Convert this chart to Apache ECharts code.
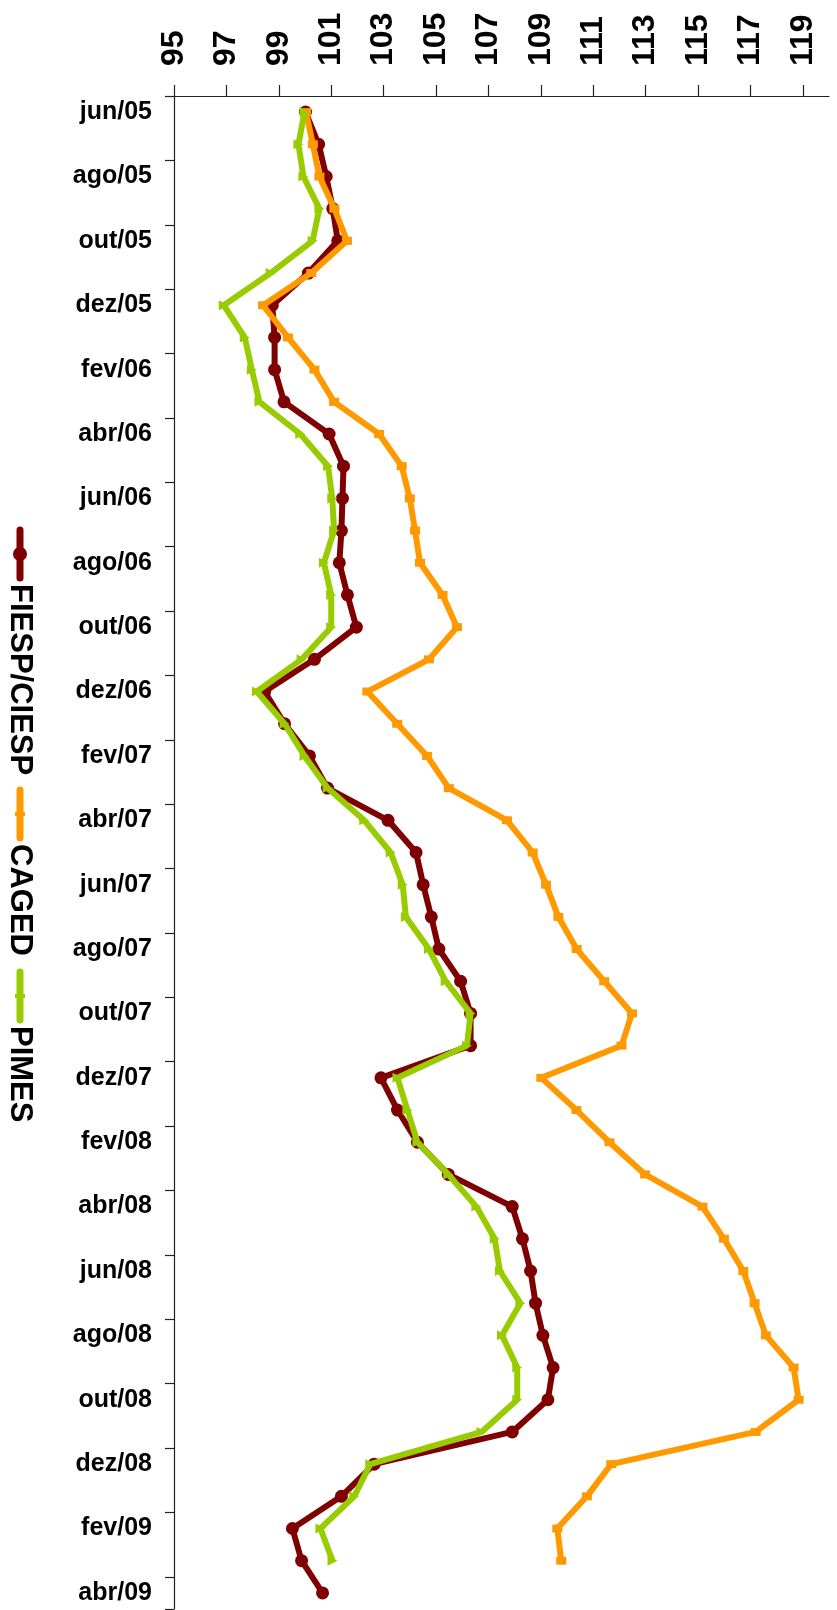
<!DOCTYPE html>
<html>
<head>
<meta charset="utf-8">
<script src="https://cdn.jsdelivr.net/npm/echarts@6/dist/echarts.min.js"></script>
<style>
    html, body { margin: 0; padding: 0; background: #fff; }
</style>
</head>
<body>
<div id="emprego_chart" style="width:837px;height:1610px;"></div>
<script>
    // meses (eixo vertical)
    var months = ['jun/05', 'jul/05', 'ago/05', 'set/05', 'out/05', 'nov/05', 'dez/05',
        'jan/06', 'fev/06', 'mar/06', 'abr/06', 'mai/06', 'jun/06', 'jul/06', 'ago/06', 'set/06', 'out/06', 'nov/06', 'dez/06',
        'jan/07', 'fev/07', 'mar/07', 'abr/07', 'mai/07', 'jun/07', 'jul/07', 'ago/07', 'set/07', 'out/07', 'nov/07', 'dez/07',
        'jan/08', 'fev/08', 'mar/08', 'abr/08', 'mai/08', 'jun/08', 'jul/08', 'ago/08', 'set/08', 'out/08', 'nov/08', 'dez/08',
        'jan/09', 'fev/09', 'mar/09', 'abr/09'];

    var fiesp = [100.02, 100.52, 100.81, 101.06, 101.25, 100.13, 98.75,
        98.84, 98.84, 99.20, 100.92, 101.47, 101.43, 101.39, 101.31, 101.62, 101.96, 100.36, 98.46,
        99.22, 100.17, 100.86, 103.17, 104.24, 104.51, 104.82, 105.11, 105.94, 106.32, 106.32, 102.90,
        103.53, 104.29, 105.47, 107.91, 108.30, 108.61, 108.80, 109.08, 109.47, 109.27, 107.91, 102.64,
        101.39, 99.52, 99.87, 100.67];

    var caged = [100.04, 100.30, 100.55, 101.12, 101.60, 100.24, 98.40,
        99.35, 100.36, 101.11, 102.83, 103.69, 104.00, 104.20, 104.39, 105.25, 105.80, 104.73, 102.38,
        103.52, 104.66, 105.49, 107.71, 108.69, 109.20, 109.67, 110.37, 111.42, 112.48, 112.08, 109.02,
        110.36, 111.62, 112.98, 115.17, 115.99, 116.73, 117.16, 117.59, 118.65, 118.84, 117.20, 111.69,
        110.76, 109.63, 109.78, '-'];

    var pimes = [99.98, 99.75, 99.94, 100.55, 100.29, 98.69, 96.90,
        97.70, 97.97, 98.26, 99.82, 100.88, 101.04, 101.11, 100.72, 101.00, 101.00, 99.87, 98.16,
        99.22, 99.98, 100.86, 102.26, 103.27, 103.73, 103.85, 104.73, 105.37, 106.32, 106.18, 103.53,
        103.91, 104.29, 105.47, 106.54, 107.24, 107.44, 108.22, 107.52, 108.10, 108.10, 106.74, 102.49,
        101.88, 100.59, 101.05, '-'];

    var tickValues = [95, 97, 99, 101, 103, 105, 107, 109, 111, 113, 115, 117, 119];

    var seriesNames = ['FIESP/CIESP', 'CAGED', 'PIMES'];
    var seriesColors = ['#7f0000', '#ff9900', '#99cc00'];

    var fontFamily = '"Liberation Sans", Arial, Helvetica, sans-serif';

    // legenda girada 90 graus (desenhada com graphic)
    var legendStarts = [0, 260, 442];
    var legendChildren = [];
    seriesNames.forEach(function (name, i) {
        var s = legendStarts[i];
        legendChildren.push({
            type: 'line',
            shape: { x1: s, y1: 0, x2: s + 48, y2: 0 },
            style: { stroke: seriesColors[i], lineWidth: 7, lineCap: 'round' }
        });
        if (i === 0) {
            legendChildren.push({
                type: 'circle',
                shape: { cx: s + 24, cy: 0, r: 7 },
                style: { fill: seriesColors[i] }
            });
        } else {
            legendChildren.push({
                type: 'rect',
                shape: { x: s + 22, y: -5, width: 4, height: 10 },
                style: { fill: seriesColors[i] }
            });
        }
        legendChildren.push({
            type: 'text',
            x: s + 54,
            y: 0,
            style: {
                text: name,
                fill: '#000',
                font: 'bold 31px ' + fontFamily,
                textAlign: 'left',
                textVerticalAlign: 'middle'
            }
        });
    });

    var option = {
        backgroundColor: '#fff',
        animation: false,
        grid: {
            top: 96,
            left: 174,
            right: 8,
            height: 1513
        },
        xAxis: {
            type: 'value',
            position: 'top',
            min: 95,
            max: 120,
            interval: 1,
            splitLine: { show: false },
            axisLine: { show: true, lineStyle: { color: '#222', width: 1.2 } },
            axisTick: {
                show: true,
                length: 11,
                customValues: tickValues,
                lineStyle: { color: '#222', width: 1.2 }
            },
            axisLabel: {
                customValues: tickValues,
                rotate: -90,
                margin: 30,
                color: '#000',
                fontSize: 32,
                fontWeight: 'bold',
                fontFamily: fontFamily
            }
        },
        yAxis: {
            type: 'category',
            inverse: true,
            boundaryGap: true,
            data: months,
            axisLine: { show: true, lineStyle: { color: '#222', width: 1.2 } },
            axisTick: {
                show: true,
                length: 9,
                interval: 1,
                lineStyle: { color: '#222', width: 1.2 }
            },
            axisLabel: {
                interval: 1,
                margin: 22,
                color: '#000',
                fontSize: 25,
                fontWeight: 'bold',
                fontFamily: fontFamily
            },
            splitLine: { show: false }
        },
        series: [
            {
                name: seriesNames[0],
                type: 'line',
                data: fiesp,
                symbol: 'circle',
                symbolSize: 13,
                lineStyle: { color: seriesColors[0], width: 6 },
                itemStyle: { color: seriesColors[0] },
                z: 2
            },
            {
                name: seriesNames[1],
                type: 'line',
                data: caged,
                symbol: 'rect',
                symbolSize: [10, 8],
                lineStyle: { color: seriesColors[1], width: 6 },
                itemStyle: { color: seriesColors[1] },
                z: 3
            },
            {
                name: seriesNames[2],
                type: 'line',
                data: pimes,
                symbol: 'triangle',
                symbolSize: 10,
                symbolRotate: -90,
                lineStyle: { color: seriesColors[2], width: 6 },
                itemStyle: { color: seriesColors[2] },
                z: 4
            }
        ],
        graphic: [
            {
                type: 'group',
                x: 20,
                y: 530,
                rotation: -Math.PI / 2,
                children: legendChildren
            }
        ]
    };

    var chart = echarts.init(document.getElementById('emprego_chart'));
    chart.setOption(option);
    window.addEventListener('resize', function () {
        chart.resize();
    });
</script>
</body>
</html>
